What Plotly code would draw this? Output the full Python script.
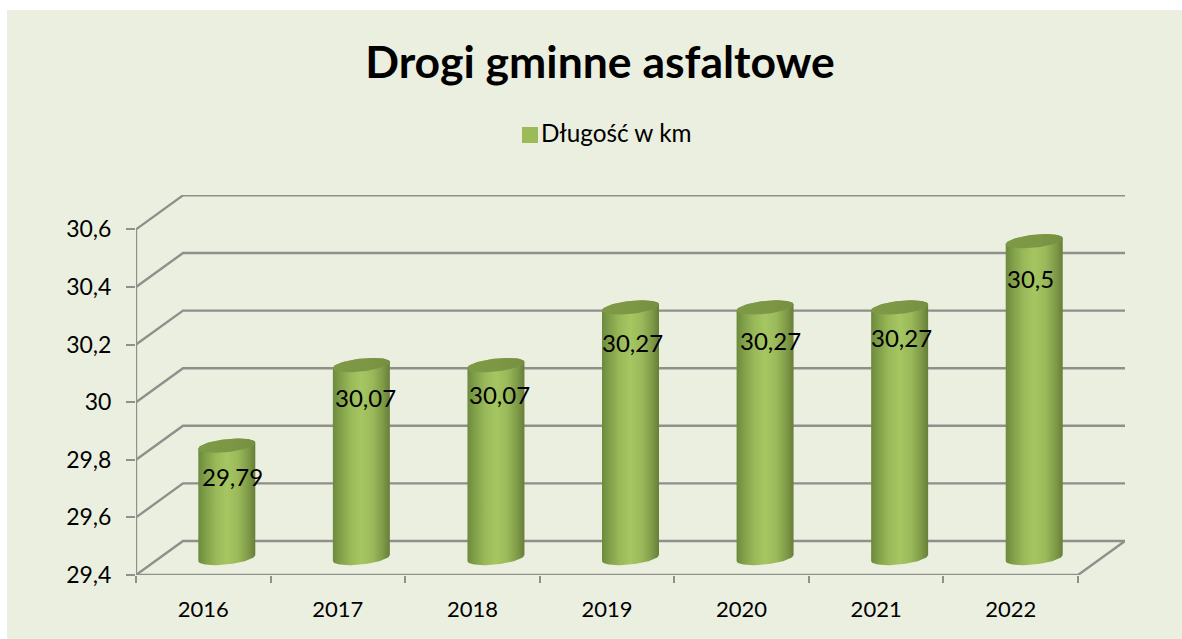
import numpy as np
import plotly.graph_objects as go

years = ["2016", "2017", "2018", "2019", "2020", "2021", "2022"]
lengths = [29.79, 30.07, 30.07, 30.27, 30.27, 30.27, 30.5]
y_ticks = [29.4, 29.6, 29.8, 30.0, 30.2, 30.4, 30.6]
series_name = "Długość w km"
title_text = "Drogi gminne asfaltowe"

W, H = 1182, 639
FONT = "Lato, Carlito, Calibri, sans-serif"
GRID = "#8f8f8c"
PANEL = "#ebefdf"
SERIES = "#9bbb59"

# pixel layout of the pseudo-3D frame
x_left, x_front_right, x_back_right = 136, 1078, 1125
y_base, y_back_top = 575, 195
y_front_top = 229.4
depth_px_x, depth_px_y = 47, 34
cat_px = (x_front_right - x_left) / len(years)
val_px = (y_base - y_front_top) / (y_ticks[-1] - y_ticks[0])
depth_x = depth_px_x / cat_px
depth_y = depth_px_y / val_px
x_min = -0.5
x_max = x_min + (x_back_right - x_left) / cat_px
y_min = y_ticks[0]
y_max = y_min + (y_base - y_back_top) / val_px

fig = go.Figure()

# category axis carrier + legend entry (its swatch is placed as a shape, closer to the text)
fig.add_trace(go.Scatter(x=years, y=lengths, mode="markers", name=series_name,
                         marker=dict(symbol="square", size=1, color=PANEL),
                         showlegend=True, hoverinfo="skip"))


def line(xs, ys, width=2.4):
    fig.add_trace(go.Scatter(x=xs, y=ys, xaxis="x2", mode="lines", showlegend=False,
                             cliponaxis=False, hoverinfo="skip",
                             line=dict(color=GRID, width=width)))


# wall gridlines
for v in y_ticks:
    line([x_min, x_min + depth_x, x_max], [v, v + depth_y, v + depth_y])
# front axes
line([x_min, x_min], [y_min, y_ticks[-1]])
line([x_min, x_min + len(years), x_max], [y_min, y_min, y_min + depth_y])

GRAD = [[0, "#6c8a3d"], [0.12, "#7f9e48"], [0.32, "#9aba5a"], [0.5, "#a6c662"],
        [0.7, "#9ab95a"], [0.88, "#7f9a47"], [1, "#667e39"]]
TOP_GRAD = [[0, "#7e9a47"], [0.5, "#7d9845"], [1, "#768f42"]]
rx_px, ry_px, tilt_px = 28.5, 6.5, 3.0


def ellipse(cx, cy, t):
    xs = cx + rx_px / cat_px * np.cos(t)
    ys = cy + (ry_px * np.sin(t) + tilt_px * np.cos(t)) / val_px
    return xs, ys


for i, v in enumerate(lengths):
    cx = i + depth_x / 2
    base = y_min + depth_y / 2
    top = v + depth_y / 2
    xb, yb = ellipse(cx, base, np.linspace(np.pi, 2 * np.pi, 40))
    xt, yt = ellipse(cx, top, np.linspace(0, np.pi, 40))
    fig.add_trace(go.Scatter(x=np.r_[xb, xt], y=np.r_[yb, yt], xaxis="x2", mode="lines",
                             fill="toself", line=dict(width=0), showlegend=False,
                             cliponaxis=False, hoverinfo="skip",
                             fillgradient=dict(type="horizontal", colorscale=GRAD)))
    xe, ye = ellipse(cx, top, np.linspace(0, 2 * np.pi, 80))
    fig.add_trace(go.Scatter(x=xe, y=ye, xaxis="x2", mode="lines", fill="toself",
                             line=dict(width=0), showlegend=False, cliponaxis=False,
                             hoverinfo="skip",
                             fillgradient=dict(type="horizontal", colorscale=TOP_GRAD)))

# data labels (hand placed in the original)
label_dx = [6, 4, 4, 2, 5, 2, -4]
label_dy = [31, 32, 29, 35, 33, 30, 37]
annotations = []
for i, v in enumerate(lengths):
    annotations.append(dict(x=i + depth_x / 2, y=v + depth_y / 2, xref="x2", yref="y",
                            text=f"{v:g}".replace(".", ","), showarrow=False,
                            xshift=label_dx[i], yshift=-label_dy[i],
                            font=dict(family=FONT, size=24, color="#000000")))

fig.update_layout(
    template="none",
    width=W, height=H,
    margin=dict(l=0, r=0, t=0, b=0, pad=0),
    paper_bgcolor="#ffffff",
    plot_bgcolor="rgba(0,0,0,0)",
    separators=", ",
    font=dict(family=FONT, color="#000000"),
    title=dict(text=f"<b>{title_text}</b>", x=600 / W, xanchor="center",
               y=1 - 62 / H, yanchor="middle", font=dict(family=FONT, size=44.5, color="#000000")),
    showlegend=True,
    legend=dict(x=501 / W, y=1 - 133 / H, xanchor="left", yanchor="middle",
                bgcolor="rgba(0,0,0,0)", font=dict(family=FONT, size=24.3), itemwidth=30,
                borderwidth=0),
    xaxis=dict(type="category", categoryorder="array", categoryarray=years, automargin=False,
               domain=[x_left / W, x_back_right / W], range=[x_min, x_max],
               tickson="boundaries", ticks="outside", ticklen=7, tickwidth=2, tickcolor=GRID,
               showgrid=False, zeroline=False, showline=False, ticklabelstandoff=19,
               tickfont=dict(family=FONT, size=22), anchor="y"),
    xaxis2=dict(overlaying="x", domain=[x_left / W, x_back_right / W], range=[x_min, x_max],
                visible=False, anchor="y", automargin=False),
    yaxis=dict(domain=[1 - y_base / H, 1 - y_back_top / H], range=[y_min, y_max], automargin=False,
               tickmode="array", tickvals=y_ticks,
               ticktext=[f"{t:g}".replace(".", ",") for t in y_ticks],
               ticks="outside", ticklen=9, tickwidth=2, tickcolor=GRID, showgrid=False,
               zeroline=False, showline=False, ticklabelstandoff=10,
               tickfont=dict(family=FONT, size=23), anchor="x"),
    shapes=[dict(type="rect", xref="paper", yref="paper", layer="below",
                 x0=7 / W, x1=1, y0=0, y1=1 - 10 / H,
                 fillcolor=PANEL, line=dict(width=0)),
            dict(type="rect", xref="paper", yref="paper", layer="above",
                 x0=522 / W, x1=538 / W, y0=1 - 143 / H, y1=1 - 127 / H,
                 fillcolor=SERIES, line=dict(width=0))],
    annotations=annotations,
)

fig.write_html("out.html", config={"displayModeBar": False},
               post_script="document.body.style.margin='0';")
